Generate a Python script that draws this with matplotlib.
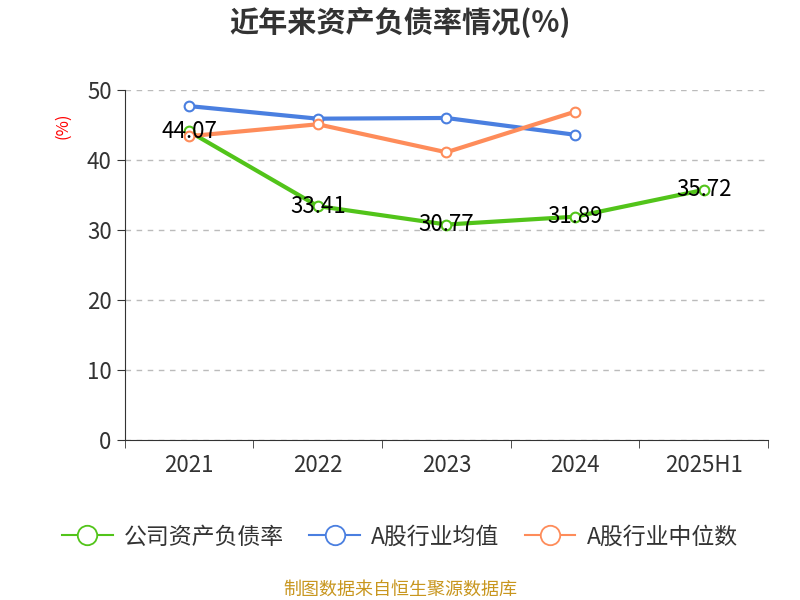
import matplotlib
matplotlib.use("Agg")
from matplotlib import pyplot as plt

plt.rcParams['font.family'] = ['Noto Sans CJK SC', 'DejaVu Sans']

years = ["2021", "2022", "2023", "2024", "2025H1"]
company = [44.07, 33.41, 30.77, 31.89, 35.72]
ind_mean = [47.7, 45.9, 46.0, 43.6]
ind_median = [43.4, 45.1, 41.1, 46.9]

green = "#52c41a"
blue = "#4a7fe0"
orange = "#fe8c5a"

fig = plt.figure(figsize=(8, 6), dpi=100)
ax = fig.add_axes([0.156, 0.267, 0.804, 0.583])

x = list(range(len(years)))
mk = dict(marker="o", markersize=7, markerfacecolor="white", markeredgewidth=1.5, linewidth=3)
ax.plot(x, company, color=green, label="公司资产负债率", **mk)
ax.plot(x[:4], ind_mean, color=blue, label="A股行业均值", **mk)
ax.plot(x[:4], ind_median, color=orange, label="A股行业中位数", **mk)

for i, v in enumerate(company):
    ax.text(i, v, "{:.2f}".format(v), ha="center", va="center", fontsize=16, color="black")

ax.set_xlim(-0.5, 4.5)
ax.set_ylim(0, 50)
ax.set_yticks(range(0, 51, 10))
ax.set_xticks(x)
ax.set_xticklabels(years)
ax.set_xticks([i - 0.5 for i in range(6)], minor=True)
ax.tick_params(axis="x", which="major", length=0, pad=10, labelsize=16, labelcolor="#333333")
ax.tick_params(axis="x", which="minor", length=6, color="#333333")
ax.tick_params(axis="y", length=6, labelsize=16, labelcolor="#333333", color="#333333")
ax.yaxis.grid(True, linestyle=(0, (4, 4)), color="#bbbbbb", linewidth=1)
ax.set_axisbelow(True)
for s in ["top", "right"]:
    ax.spines[s].set_visible(False)
ax.spines["left"].set_color("#333333")
ax.spines["bottom"].set_color("#333333")

fig.text(0.078, 0.79, "(%)", color="red", rotation=90, ha="center", va="center", fontsize=12)
fig.text(0.5, 0.962, "近年来资产负债率情况(%)", ha="center", va="center", fontsize=21, fontweight="bold", color="#333333")

leg = fig.legend(loc="center", bbox_to_anchor=(0.5, 0.105), ncol=3, frameon=False,
                 fontsize=16.5, handlelength=2.2, columnspacing=1.1, handletextpad=0.5,
                 markerscale=2.0)
for t in leg.get_texts():
    t.set_color("#333333")
for h in leg.legend_handles:
    h.set_linewidth(1.5)
    h.set_markeredgewidth(1.3)

fig.text(0.5, 0.017, "制图数据来自恒生聚源数据库", ha="center", va="center", fontsize=13, color="#c8961e")

fig.savefig("out.png", dpi=100)
